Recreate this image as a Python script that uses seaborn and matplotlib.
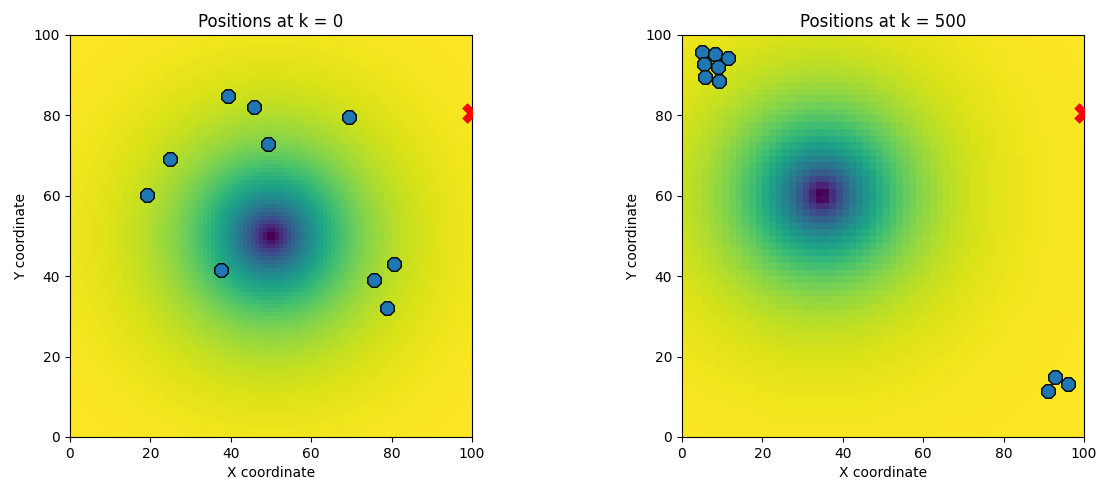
import numpy as np
import pandas as pd
import matplotlib
matplotlib.use("Agg")
import matplotlib.pyplot as plt
import seaborn as sns

# Agent positions at step k = 0
x_k0 = [39.3, 45.8, 69.4, 49.3, 24.9, 19.2, 37.6, 80.6, 75.6, 78.9]
y_k0 = [84.8, 82.1, 79.6, 72.9, 69.2, 60.2, 41.5, 43.0, 39.1, 32.1]

# Agent positions at step k = 500
x_k500 = [4.9, 8.3, 11.5, 5.5, 8.9, 5.8, 9.1, 92.7, 95.9, 91.1]
y_k500 = [95.8, 95.2, 94.2, 92.8, 92.1, 89.6, 88.6, 15.0, 13.2, 11.4]

# Target marker (sits on the right border, so only half of it is shown)
target_x = [100.0]
target_y = [80.7]

# Field source centre for each snapshot and grid resolution of the field
source_k0 = (50.0, 50.0)
source_k500 = (34.8, 60.2)
grid_k0 = 100
grid_k500 = 60
decay = 14.0

titles = ["Positions at k = 0", "Positions at k = 500"]


def field(center, n):
    c = (np.arange(n) + 0.5) * 100.0 / n
    gx, gy = np.meshgrid(c, c)
    r = np.hypot(gx - center[0], gy - center[1])
    return 1.0 - np.exp(-r / decay)


fig = plt.figure(figsize=(11.04, 4.87), dpi=100)
ax1 = fig.add_axes([70 / 1104, 50 / 487, 402 / 1104, 402 / 487])
ax2 = fig.add_axes([682 / 1104, 50 / 487, 402 / 1104, 402 / 487])

panels = [
    (ax1, source_k0, grid_k0, x_k0, y_k0, titles[0]),
    (ax2, source_k500, grid_k500, x_k500, y_k500, titles[1]),
]

for ax, src, n, xs, ys, title in panels:
    ax.imshow(field(src, n), extent=[0, 100, 0, 100], origin="lower",
              cmap="viridis", interpolation="nearest", aspect="auto", zorder=0)
    df = pd.DataFrame({"x": xs, "y": ys})
    sns.scatterplot(data=df, x="x", y="y", ax=ax, marker="8", s=110,
                    color="#1f77b4", edgecolor="black", linewidth=1.0,
                    legend=False, zorder=3)
    tdf = pd.DataFrame({"x": target_x, "y": target_y})
    sns.scatterplot(data=tdf, x="x", y="y", ax=ax, marker="X", s=200,
                    color="red", edgecolor="red", linewidth=0.5,
                    legend=False, zorder=4, clip_on=True)
    ax.set_xlim(0, 100)
    ax.set_ylim(0, 100)
    ax.set_xticks([0, 20, 40, 60, 80, 100])
    ax.set_yticks([0, 20, 40, 60, 80, 100])
    ax.tick_params(labelsize=10)
    ax.set_xlabel("X coordinate", fontsize=10)
    ax.set_ylabel("Y coordinate", fontsize=10)
    ax.set_title(title, fontsize=12)

fig.savefig("out.png", dpi=100)
